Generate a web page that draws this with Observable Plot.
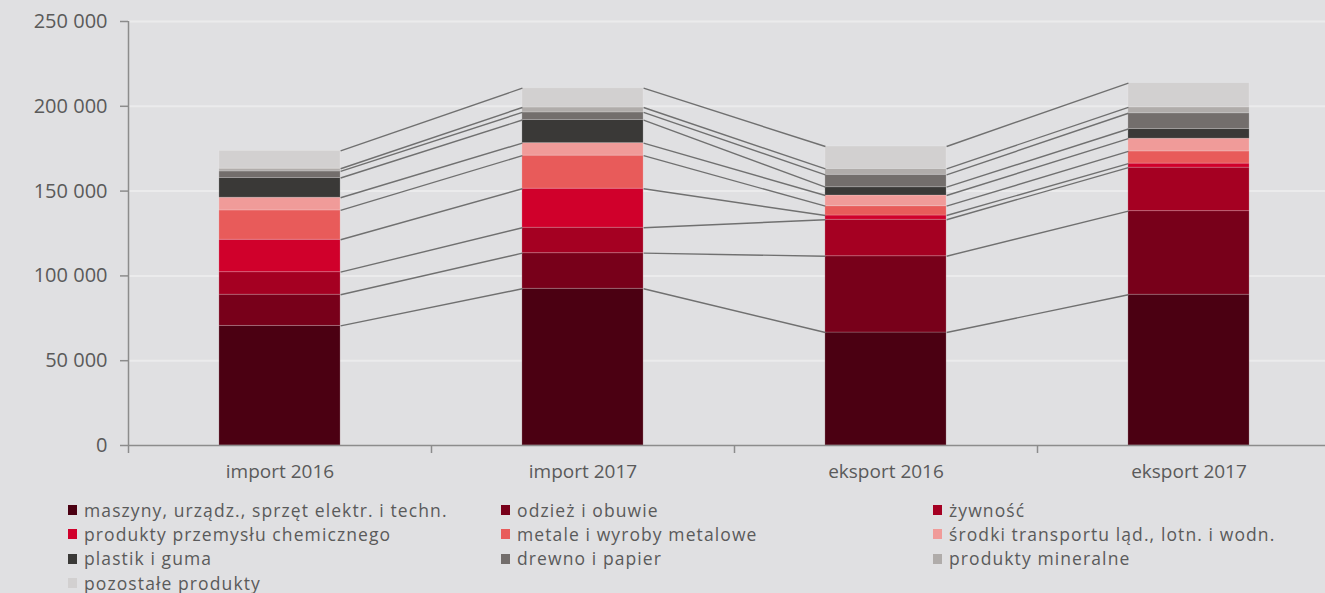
<!DOCTYPE html>
<html><head><meta charset="utf-8">
<script src="https://cdn.jsdelivr.net/npm/d3@7"></script>
<script src="https://cdn.jsdelivr.net/npm/@observablehq/plot@0.6"></script>
<style>
html,body{margin:0;padding:0;background:#e0e0e2;overflow:hidden}
body{width:1325px;height:593px;font-family:"Open Sans",sans-serif;color:#5a5a5a;position:relative}
#chart{position:absolute;left:0;top:0}
#legend{position:absolute;left:68px;top:498px;display:grid;grid-template-columns:433px 432px 400px;font-size:17.5px;letter-spacing:1.1px;line-height:24.2px}
.item{display:flex;align-items:center;white-space:nowrap}
.sw{width:9px;height:10px;margin-right:7px;flex:none}
</style></head>
<body>
<div id="chart"></div>
<div id="legend"></div>
<script>
const categories = ["import 2016", "import 2017", "eksport 2016", "eksport 2017"];
const seriesNames = [
  "maszyny, urządz., sprzęt elektr. i techn.",
  "odzież i obuwie",
  "żywność",
  "produkty przemysłu chemicznego",
  "metale i wyroby metalowe",
  "środki transportu ląd., lotn. i wodn.",
  "plastik i guma",
  "drewno i papier",
  "produkty mineralne",
  "pozostałe produkty"
];
const maszyny   = [70500, 92400, 66600, 88900];
const odziez    = [18400, 21000, 45000, 49300];
const zywnosc   = [13300, 15000, 21500, 25600];
const chemia    = [19100, 23000, 2500, 2400];
const metale    = [17300, 19500, 5500, 7200];
const transport = [7500, 7400, 6300, 7500];
const plastik   = [11600, 13600, 4900, 5700];
const drewno    = [3900, 4500, 7300, 9300];
const mineralne = [1600, 2900, 3500, 3500];
const pozostale = [10500, 11400, 13200, 14300];
const yTicks = [0, 50000, 100000, 150000, 200000, 250000];
const colors = ["#4b0012", "#78001a", "#a50022", "#d0002b", "#e85b5a", "#f09b99", "#3a3937", "#736e6c", "#b0acaa", "#d2d0d0"];

const seriesValues = [maszyny, odziez, zywnosc, chemia, metale, transport, plastik, drewno, mineralne, pozostale];
const barW = 0.4;

// stacked segments
const segs = [];
categories.forEach((c, i) => {
  let acc = 0;
  seriesNames.forEach((s, k) => {
    const v = seriesValues[k][i];
    segs.push({cat: i, series: s, y1: acc, y2: acc + v});
    acc += v;
  });
});
const topOf = (k, i) => segs.find(d => d.cat === i && d.series === seriesNames[k]).y2;
const links = [];
seriesNames.forEach((s, k) => {
  for (let i = 0; i < categories.length - 1; i++) {
    links.push({x1: i + 0.5 + barW / 2, x2: i + 1.5 - barW / 2, y1: topOf(k, i), y2: topOf(k, i + 1)});
  }
});

const fmt = d => d3.format(",")(d).replace(/,/g, " ");

const plot = Plot.plot({
  width: 1325,
  height: 490,
  marginLeft: 128,
  marginRight: 0,
  marginTop: 21,
  marginBottom: 45,
  style: {background: "transparent", fontFamily: "'Open Sans', sans-serif", fontSize: "19px", color: "#5a5a5a", overflow: "hidden"},
  x: {domain: [0, categories.length], range: [128, 128 + 303 * categories.length]},
  y: {domain: [0, 250000], range: [445, 21]},
  color: {domain: seriesNames, range: colors},
  marks: [
    Plot.ruleY(yTicks.filter(d => d > 0), {stroke: "#ebebec", strokeWidth: 2}),
    Plot.rect(segs, {x1: d => d.cat + 0.5 - barW / 2, x2: d => d.cat + 0.5 + barW / 2, y1: "y1", y2: "y2", fill: "series", stroke: "#ffffff", strokeOpacity: 0.18, strokeWidth: 1}),
    Plot.link(links, {x1: "x1", x2: "x2", y1: "y1", y2: "y2", stroke: "#707070", strokeWidth: 1.4}),
    Plot.ruleX([0], {y1: 0, y2: 250000, stroke: "#8c8c8c", strokeWidth: 1.5}),
    Plot.ruleY([0], {stroke: "#8c8c8c", strokeWidth: 1.5}),
    Plot.axisY({ticks: yTicks, tickFormat: fmt, tickSize: 8, tickPadding: 13, stroke: "#8c8c8c", fill: "#5a5a5a", strokeWidth: 1.5, fontSize: 20, label: null}),
    Plot.axisX({ticks: d3.range(categories.length + 1), tickFormat: () => "", tickSize: 8, stroke: "#8c8c8c", strokeWidth: 1.5, label: null}),
    Plot.axisX({ticks: categories.map((c, i) => i + 0.5), tickFormat: d => categories[Math.floor(d)], tickSize: 0, tickPadding: 19, fill: "#5a5a5a", fontSize: 19, label: null})
  ]
});
document.getElementById("chart").appendChild(plot);

const legend = document.getElementById("legend");
seriesNames.forEach((s, k) => {
  const it = document.createElement("div");
  it.className = "item";
  const sw = document.createElement("span");
  sw.className = "sw";
  sw.style.background = colors[k];
  it.appendChild(sw);
  it.appendChild(document.createTextNode(s));
  legend.appendChild(it);
});
</script>
</body></html>
